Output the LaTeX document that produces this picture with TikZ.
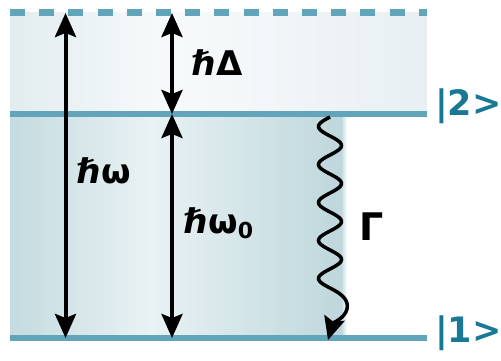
\documentclass[tikz,border=0pt]{standalone}
\usepackage{fontspec}
\setmainfont{DejaVu Sans}
\usetikzlibrary{arrows.meta}
\definecolor{lvl}{HTML}{62A5BB}
\definecolor{lbl}{HTML}{187896}
\definecolor{upL}{HTML}{E2ECEF}
\definecolor{upM}{HTML}{F7FAFB}
\definecolor{upR}{HTML}{E8EFF2}
\definecolor{loL}{HTML}{C4DBDF}
\definecolor{loM}{HTML}{E9F2F4}
\definecolor{loR}{HTML}{BED7DC}
\tikzset{
  level/.style={draw=lvl, line width=6pt},
  dblarrow/.style={line width=4pt, {Stealth[length=24pt,width=21pt,inset=4pt]}-{Stealth[length=24pt,width=21pt,inset=4pt]}},
  wavy/.style={line width=3.5pt, -{Stealth[length=23pt,width=21pt,inset=4pt]}},
  sym/.style={font=\bfseries\fontsize{34}{34}\selectfont, inner sep=0pt},
  ket/.style={font=\bfseries\fontsize{35}{35}\selectfont, text=lbl, inner sep=0pt, anchor=base west}
}
\begin{document}
\begin{tikzpicture}[x=1pt,y=-1pt]
\useasboundingbox (0,0) rectangle (501,361);
% shaded regions
\shade[left color=upL, right color=upM] (10,12.7) rectangle (170,114);
\shade[left color=upM, right color=upR] (170,12.7) rectangle (427,114);
\shade[left color=loL, right color=loM] (10,114) rectangle (150,338);
\shade[left color=loM, right color=loR] (150,114) rectangle (341,338);
\shade[left color=loR, right color=white] (341,114) rectangle (347,338);
% levels
\coordinate (tl) at (10,12.7); \coordinate (tr) at (427,12.7);
\coordinate (l2a) at (10,114); \coordinate (l2b) at (427,114);
\coordinate (l1a) at (10,338); \coordinate (l1b) at (427,338);
\draw[draw=lvl, line width=6.5pt, dash pattern=on 15pt off 14.2pt] (tl) -- (tr);
\draw[level] (l2a) -- (l2b);
\draw[level] (l1a) -- (l1b);
% arrow endpoints
\coordinate (wTop) at (65.5,13); \coordinate (wBot) at (65.5,338);
\coordinate (dTop) at (172,13); \coordinate (dBot) at (172,114);
\coordinate (oTop) at (172,114); \coordinate (oBot) at (172,338);
\draw[dblarrow] (wTop) -- (wBot);
\draw[dblarrow] (dTop) -- (dBot);
\draw[dblarrow] (oTop) -- (oBot);
% wavy decay
\coordinate (gEnd) at (328,340);
\draw[wavy] plot[domain=117:288, samples=120] ({330-11.5*sin((\x-117)/38*360)}, {\x})
  .. controls (342,294) and (349,300) .. (347,309)
  .. controls (345,318) and (333,323) .. (gEnd);
% labels
\node[sym, anchor=base west] (hD) at (192,76) {ℏΔ};
\node[sym, anchor=base west] (hw) at (77,183) {ℏω};
\node[sym, anchor=base west] (hw0) at (184,233) {ℏω\raisebox{-5pt}{\fontsize{22}{22}\selectfont 0}};
\node[font=\bfseries\fontsize{38}{38}\selectfont, inner sep=0pt, anchor=base west] (G) at (359,240) {Γ};
\node[ket] (k2) at (435,116) {|2>};
\node[ket] (k1) at (435,342) {|1>};
\end{tikzpicture}
\end{document}
